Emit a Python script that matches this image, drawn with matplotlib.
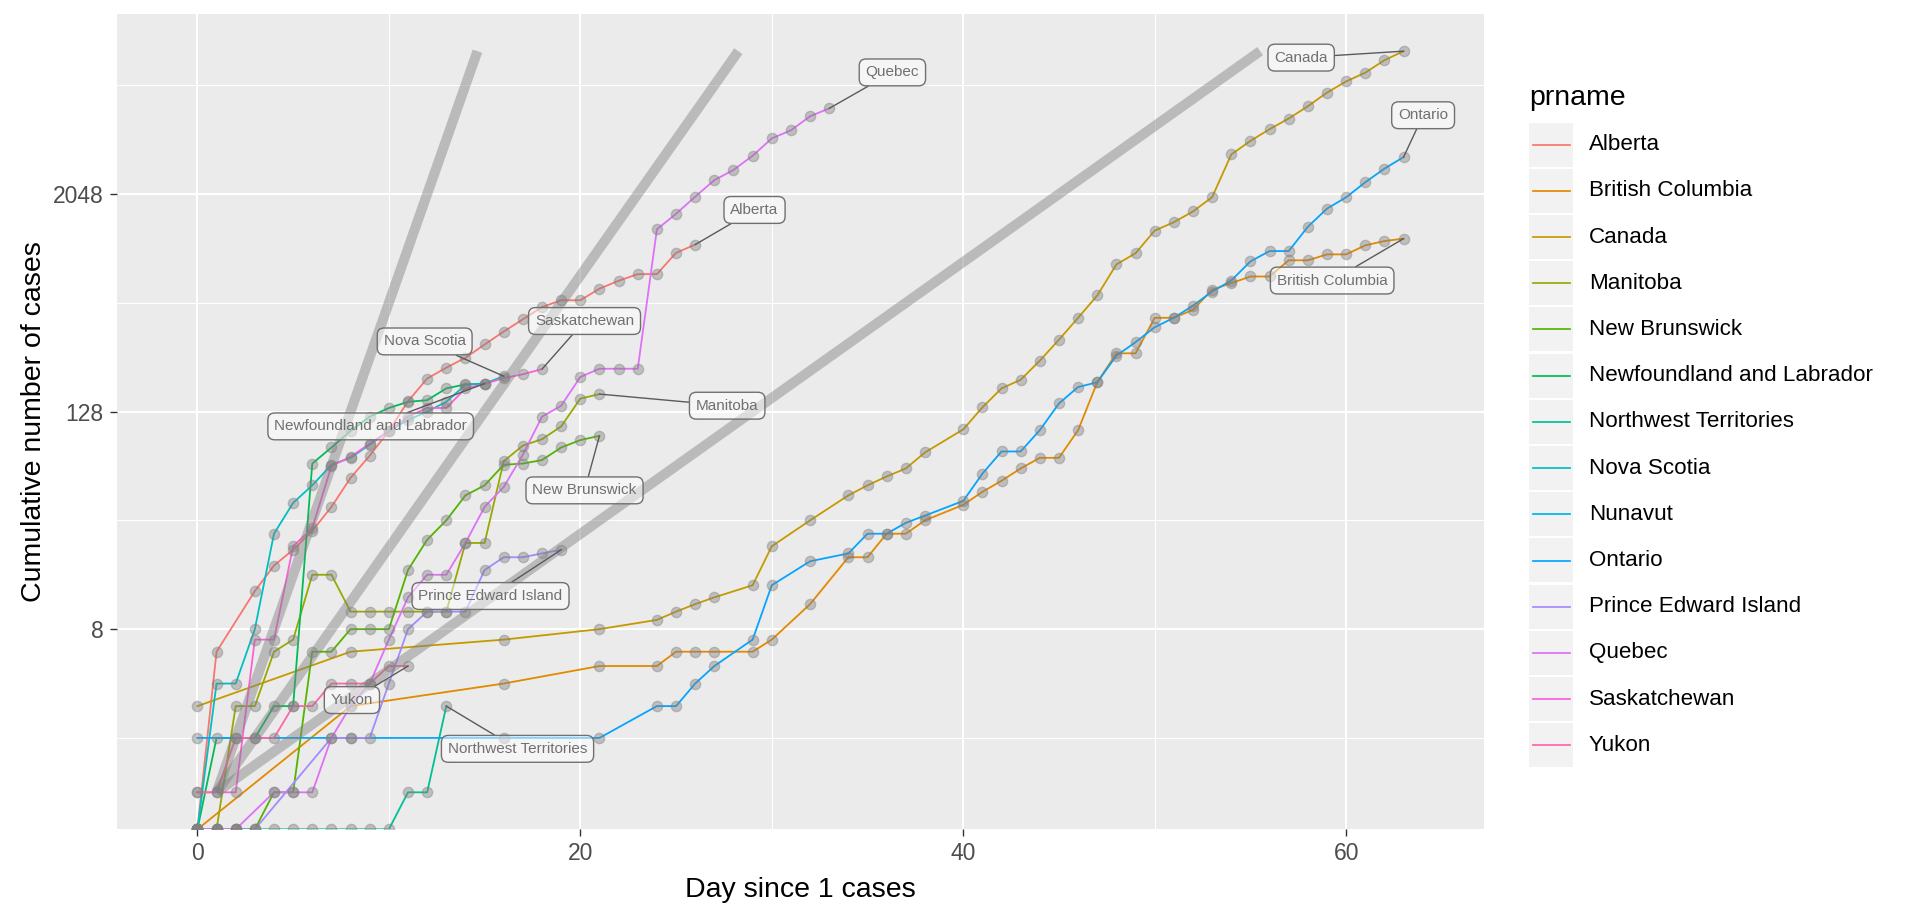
import numpy as np
import matplotlib
matplotlib.use("Agg")
import matplotlib.pyplot as plt
from matplotlib.patches import Rectangle
from matplotlib.lines import Line2D
from matplotlib.ticker import NullFormatter

plt.rcParams['font.family'] = ['Liberation Sans', 'DejaVu Sans']

# provinces (legend order)
provinces = ['Alberta', 'British Columbia', 'Canada', 'Manitoba', 'New Brunswick',
             'Newfoundland and Labrador', 'Northwest Territories', 'Nova Scotia',
             'Nunavut', 'Ontario', 'Prince Edward Island', 'Quebec', 'Saskatchewan', 'Yukon']

# cumulative cases (0 = below the log axis)
alberta_days = [0, 1, 3, 4, 5, 6, 7, 8, 9, 10, 11, 12, 13, 14, 15, 16, 17, 18, 19, 20, 21, 22, 23, 24, 25, 26]
alberta_cases = [0, 6, 13, 18, 22, 28, 38, 55, 73, 100, 146, 195, 224, 254, 301, 355, 415, 485, 529, 529,
                 613, 678, 738, 738, 968, 1075]

national_days = [0, 8, 16, 21, 24, 25, 26, 27, 29, 30, 32, 34, 35, 36, 37, 38, 40, 41, 42, 43, 44, 45, 46,
                 47, 48, 49, 50, 51, 52, 53, 54, 55, 56, 57, 58, 59, 60, 61, 62, 63]
bc_cases = [0, 3, 4, 5, 5, 6, 6, 6, 6, 7, 11, 20, 20, 27, 27, 32, 39, 46, 53, 62, 71, 71, 101, 186, 269,
            269, 423, 423, 468, 605, 658, 716, 716, 880, 880, 949, 949, 1065, 1125, 1160]
canada_cases = [3, 6, 7, 8, 9, 10, 11, 12, 14, 23, 32, 44, 50, 56, 62, 76, 102, 135, 172, 192, 245, 320,
                423, 562, 835, 963, 1285, 1430, 1640, 1967, 3390, 4030, 4680, 5360, 6270, 7460, 8600,
                9620, 11270, 12650]
ontario_cases = [2, 2, 2, 2, 3, 3, 4, 5, 7, 14, 19, 21, 27, 27, 31, 34, 41, 58, 77, 77, 101, 142, 175,
                 186, 261, 310, 375, 423, 494, 591, 680, 868, 990, 990, 1350, 1700, 1965, 2380, 2830, 3280]

manitoba_days = list(range(22))
manitoba_cases = [0, 0, 3, 3, 6, 7, 16, 16, 10, 10, 10, 10, 10, 10, 24, 24, 68, 83, 90, 106, 151, 160]

nb_days = list(range(22))
nb_cases = [0, 0, 0, 0, 1, 1, 6, 6, 8, 8, 8, 17, 25, 32, 44, 50, 65, 66, 69, 81, 89, 94]

nl_days = list(range(16))
nl_cases = [0, 2, 2, 2, 3, 3, 66, 81, 100, 120, 134, 145, 148, 172, 181, 183]

nwt_days = list(range(14))
nwt_cases = [0, 0, 0, 0, 0, 0, 0, 0, 0, 0, 0, 1, 1, 3]

ns_days = list(range(17))
ns_cases = [0, 4, 4, 8, 27, 40, 50, 65, 71, 84, 100, 115, 128, 145, 180, 183, 201]

nunavut_days = [0]
nunavut_cases = [0]

pei_days = [0, 1, 2, 3, 7, 8, 9, 10, 11, 12, 13, 14, 15, 16, 17, 18, 19]
pei_cases = [0, 0, 0, 0, 2, 2, 2, 4, 8, 10, 10, 10, 17, 20, 20, 21, 22]

quebec_days = [0, 1, 2, 4, 5, 6, 7, 8, 9, 10, 11, 12, 13, 14, 15, 16, 17, 18, 19, 20, 21, 22, 23, 24, 25,
               26, 27, 28, 29, 30, 31, 32, 33]
quebec_cases = [0, 0, 0, 1, 1, 1, 2, 3, 4, 7, 12, 16, 16, 24, 38, 49, 74, 120, 138, 199, 221, 221, 221,
                1306, 1592, 1980, 2444, 2784, 3335, 4162, 4611, 5518, 6101]

sask_days = list(range(19))
sask_cases = [1, 1, 1, 7, 7, 23, 29, 64, 72, 85, 100, 120, 134, 134, 172, 182, 196, 206, 220]

yukon_days = list(range(12))
yukon_cases = [1, 1, 2, 2, 2, 3, 3, 4, 4, 4, 5, 5]

series = {
    'Alberta': (alberta_days, alberta_cases),
    'British Columbia': (national_days, bc_cases),
    'Canada': (national_days, canada_cases),
    'Manitoba': (manitoba_days, manitoba_cases),
    'New Brunswick': (nb_days, nb_cases),
    'Newfoundland and Labrador': (nl_days, nl_cases),
    'Northwest Territories': (nwt_days, nwt_cases),
    'Nova Scotia': (ns_days, ns_cases),
    'Nunavut': (nunavut_days, nunavut_cases),
    'Ontario': (national_days, ontario_cases),
    'Prince Edward Island': (pei_days, pei_cases),
    'Quebec': (quebec_days, quebec_cases),
    'Saskatchewan': (sask_days, sask_cases),
    'Yukon': (yukon_days, yukon_cases),
}

# reference lines: cases double every 1, 2 and 4 days
doubling_days = [1, 2, 4]

# where the repelled labels ended up (data coords)
label_pos = {
    'Nova Scotia': (11.87, 313), 'Saskatchewan': (20.22, 406), 'Alberta': (29.1, 1672),
    'Manitoba': (27.67, 138), 'New Brunswick': (20.22, 46.9), 'Newfoundland and Labrador': (9.05, 106),
    'Prince Edward Island': (15.31, 12.2), 'Yukon': (8.07, 3.24), 'Northwest Territories': (16.72, 1.74),
    'Quebec': (36.3, 9650), 'Canada': (57.65, 11650), 'Ontario': (64.02, 5590),
    'British Columbia': (59.27, 680),
}


def hcl_hex(h, c=100.0, l=65.0):
    # ggplot2 hue palette colour: polar Luv -> XYZ -> sRGB
    hr = np.deg2rad(h)
    u, v = c * np.cos(hr), c * np.sin(hr)
    xn, yn, zn = 0.95047, 1.0, 1.08883
    un = 4 * xn / (xn + 15 * yn + 3 * zn)
    vn = 9 * yn / (xn + 15 * yn + 3 * zn)
    Y = yn * ((l + 16) / 116) ** 3
    up = u / (13 * l) + un
    vp = v / (13 * l) + vn
    X = 9 * Y * up / (4 * vp)
    Z = (9 * Y / vp - X - 15 * Y) / 3
    m = np.array([[3.240479, -1.537150, -0.498535],
                  [-0.969256, 1.875992, 0.041556],
                  [0.055648, -0.204043, 1.057311]])
    rgb = m @ np.array([X, Y, Z])
    rgb = np.where(rgb <= 0.0031308, 12.92 * rgb, 1.055 * np.abs(rgb) ** (1 / 2.4) - 0.055)
    return tuple(np.clip(rgb, 0, 1))


hues = np.linspace(15, 375, len(provinces) + 1)[:-1]
colors = {p: hcl_hex(h) for p, h in zip(provinces, hues)}

W, H = 1920, 921
fig = plt.figure(figsize=(19.2, 9.21), dpi=100)


def fx(x):
    return x / W


def fy(y):
    return 1 - y / H


ax = fig.add_axes([fx(117), fy(829.3), fx(1484) - fx(117), fy(14) - fy(829.3)])
ax.set_facecolor('#EBEBEB')
for s in ax.spines.values():
    s.set_visible(False)

ax.set_yscale('log', base=2)
y_bot, y_top = 2 ** -0.68, 2 ** 14.31
ax.set_ylim(y_bot, y_top)
ax.set_xlim(-4.2, 67.2)

ax.set_yticks([8, 128, 2048])
ax.set_yticklabels(['8', '128', '2048'])
ax.set_yticks([2, 32, 512, 8192], minor=True)
ax.yaxis.set_minor_formatter(NullFormatter())
ax.set_xticks([0, 20, 40, 60])
ax.set_xticklabels(['0', '20', '40', '60'])
ax.set_xticks([10, 30, 50], minor=True)

ax.tick_params(which='major', length=5, width=1.0, color='#333333', labelcolor='#4D4D4D',
               labelsize=16.5, pad=4.5)
ax.tick_params(which='minor', length=0)
ax.grid(which='major', color='white', lw=1.5)
ax.grid(which='minor', color='white', lw=0.75)
ax.set_axisbelow(True)

# province lines and points
for p in provinces:
    d, c = series[p]
    c = np.array(c, dtype=float)
    yv = np.where(c > 0, c, y_bot)
    ax.plot(d, yv, color=colors[p], lw=1.3, zorder=2)
    ax.plot(d, yv, ls='none', marker='o', ms=7.4, mfc=(0.5, 0.5, 0.5, 0.42),
            mec=(0.5, 0.5, 0.5, 0.42), mew=1.0, zorder=3)

# doubling reference lines
ymax = max(canada_cases)
for dd in doubling_days:
    ax.plot([1, 1 + dd * np.log2(ymax)], [1, ymax], color=(0.5, 0.5, 0.5), alpha=0.45,
            lw=7.2, solid_capstyle='butt', zorder=4)

# end labels
for p, (lx, ly) in label_pos.items():
    d, c = series[p]
    ax.annotate(p, xy=(d[-1], c[-1]), xytext=(lx, ly), textcoords='data',
                ha='center', va='center', fontsize=11.0, color='#707070', zorder=6,
                bbox=dict(boxstyle='round,pad=0.42,rounding_size=0.45', fc=(1, 1, 1, 0.5),
                          ec='#707070', lw=1.0),
                arrowprops=dict(arrowstyle='-', color='#5a5a5a', lw=1.0, shrinkA=0, shrinkB=0))

ax.set_xlabel('Day since 1 cases', fontsize=20.5, color='black')
ax.set_ylabel('Cumulative number of cases', fontsize=20.5, color='black')
ax.xaxis.set_label_coords(0.5, -(890 - 829.3) / 815.3)
ax.yaxis.set_label_coords(-(117 - 34) / 1367, 0.5)
ax.xaxis.label.set_va('center')
ax.yaxis.label.set_va('center')

# legend drawn by hand
fig.text(fx(1529), fy(105), 'prname', fontsize=20.5, ha='left', va='baseline')
key_top, key_step, key_h = 122.7, 46.2, 44.0
for i, p in enumerate(provinces):
    top = key_top + i * key_step
    fig.add_artist(Rectangle((fx(1529), fy(top + key_h)), fx(44), key_h / H,
                             transform=fig.transFigure, fc='#F2F2F2', ec='none'))
    yc = fy(top + key_h / 2)
    fig.add_artist(Line2D([fx(1533), fx(1570)], [yc, yc], transform=fig.transFigure,
                          color=colors[p], lw=1.25))
    fig.text(fx(1589), yc, p, fontsize=16.1, ha='left', va='center')

fig.savefig('out.png', dpi=100, facecolor='white')
